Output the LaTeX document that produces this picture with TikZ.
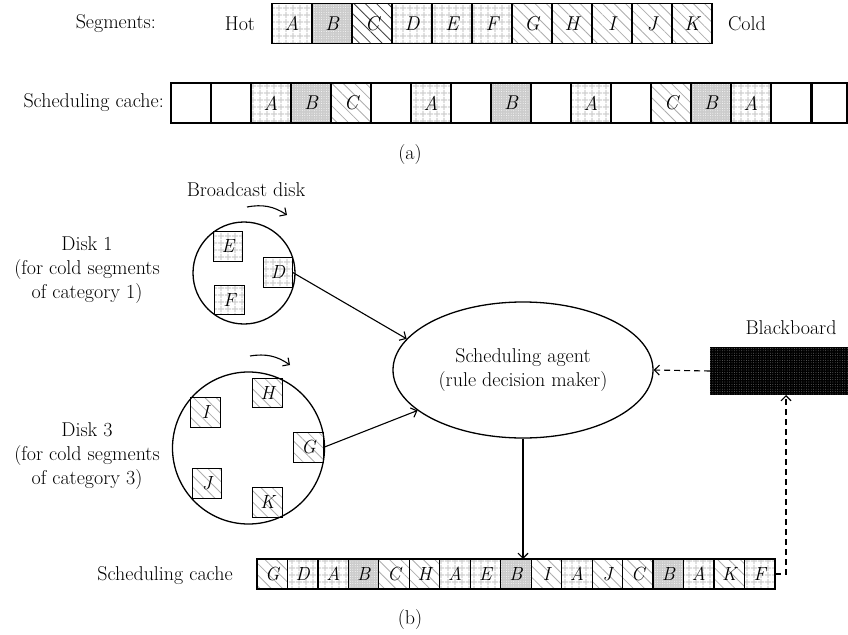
\documentclass[tikz,border=0pt]{standalone}
\usepackage{fontspec}
\usetikzlibrary{patterns.meta,arrows.meta,shapes.geometric,calc}
\begin{document}
\begin{tikzpicture}[x=1pt,y=-1pt,
  every node/.style={font=\fontsize{20}{24}\selectfont},
  lbl/.style={inner sep=0pt,align=center},
  cellbox/.style={draw,line width=1.4pt,inner sep=0pt,outer sep=0pt,minimum width=40pt,minimum height=39.5pt,font=\fontsize{20}{24}\selectfont\itshape},
  bcell/.style={draw,line width=1.2pt,inner sep=0pt,outer sep=0pt,minimum width=30.47pt,minimum height=30pt,font=\fontsize{19}{24}\selectfont\itshape},
  sq/.style={draw,line width=1.2pt,inner sep=0pt,outer sep=0pt,minimum width=29.5pt,minimum height=29.5pt,font=\fontsize{19}{24}\selectfont\itshape},
  gridfill/.style={pattern={Hatch[angle=0,distance=6.5pt,line width=1.3pt]},pattern color=black!18},
  dotfill/.style={preaction={fill=black!20},pattern={Dots[distance=2.4pt,radius=0.45pt]},pattern color=white},
  hatchfill/.style={pattern={Lines[angle=-45,distance=8pt,line width=0.8pt]},pattern color=black!32},
  hatchdark/.style={pattern={Lines[angle=-45,distance=8pt,line width=0.8pt]},pattern color=black!75},
  arr/.style={line width=1.1pt,-{Straight Barb[length=5pt,width=10pt]}},
  dsh/.style={dash pattern=on 6pt off 4pt}
]
\useasboundingbox (0,0) rectangle (848,634);

% ---------- (a) Segments row ----------
\node[lbl,anchor=east] (seglbl) at (156,24) {Segments:};
\node[lbl] (hot) at (240,24) {Hot};
\node[cellbox,gridfill]  (s0)  at (292,23.5) {A};
\node[cellbox,dotfill]   (s1)  at (332,23.5) {B};
\node[cellbox,hatchdark] (s2)  at (372,23.5) {C};
\node[cellbox,gridfill]  (s3)  at (412,23.5) {D};
\node[cellbox,gridfill]  (s4)  at (452,23.5) {E};
\node[cellbox,gridfill]  (s5)  at (492,23.5) {F};
\node[cellbox,hatchfill] (s6)  at (532,23.5) {G};
\node[cellbox,hatchfill] (s7)  at (572,23.5) {H};
\node[cellbox,hatchfill] (s8)  at (612,23.5) {I};
\node[cellbox,hatchfill] (s9)  at (652,23.5) {J};
\node[cellbox,hatchfill] (s10) at (692,23.5) {K};
\node[lbl] (cold) at (747,24) {Cold};

% ---------- (a) Scheduling cache row ----------
\node[lbl,anchor=east] (cachelbl) at (164,103) {Scheduling cache:};
\node[cellbox,minimum height=40pt] (a0)  at (191,103) {};
\node[cellbox,minimum height=40pt] (a1)  at (231,103) {};
\node[cellbox,minimum height=40pt,gridfill]  (a2)  at (271,103) {A};
\node[cellbox,minimum height=40pt,dotfill]   (a3)  at (311,103) {B};
\node[cellbox,minimum height=40pt,hatchfill] (a4)  at (351,103) {C};
\node[cellbox,minimum height=40pt] (a5)  at (391,103) {};
\node[cellbox,minimum height=40pt,gridfill]  (a6)  at (431,103) {A};
\node[cellbox,minimum height=40pt] (a7)  at (471,103) {};
\node[cellbox,minimum height=40pt,dotfill]   (a8)  at (511,103) {B};
\node[cellbox,minimum height=40pt] (a9)  at (551,103) {};
\node[cellbox,minimum height=40pt,gridfill]  (a10) at (591,103) {A};
\node[cellbox,minimum height=40pt] (a11) at (631,103) {};
\node[cellbox,minimum height=40pt,hatchfill] (a12) at (671,103) {C};
\node[cellbox,minimum height=40pt,dotfill]   (a13) at (711,103) {B};
\node[cellbox,minimum height=40pt,gridfill]  (a14) at (751,103) {A};
\node[cellbox,minimum height=40pt] (a15) at (791,103) {};
\node[cellbox,minimum height=40pt,minimum width=35pt] (a16) at (829.5,103) {};
\node[lbl] (capa) at (410,155) {(a)};

% ---------- (b) disks ----------
\node[lbl] (bdisk) at (246,190) {Broadcast disk};
\coordinate (r1s) at (247,207);
\coordinate (r1e) at (287,215);
\draw[arr] (r1s) to[bend left=22] (r1e);
\node[draw,circle,line width=1.3pt,minimum size=102pt,inner sep=0pt] (disk1) at (244,273) {};
\node[sq,gridfill] (E) at (228,246.5) {E};
\node[sq,gridfill] (D) at (278,272.5) {D};
\node[sq,gridfill] (F) at (229.5,300) {F};
\node[lbl] (d1lbl) at (87,270) {Disk 1\\(for cold segments\\of category 1)};

\coordinate (r3s) at (250,356);
\coordinate (r3e) at (290,365);
\draw[arr] (r3s) to[bend left=22] (r3e);
\node[draw,circle,line width=1.3pt,minimum size=152pt,inner sep=0pt] (disk3) at (248.5,448) {};
\node[sq,hatchfill] (H) at (267.5,393) {H};
\node[sq,hatchfill] (I) at (205.5,412.5) {I};
\node[sq,hatchfill] (G) at (308.5,447.5) {G};
\node[sq,hatchfill] (J) at (207,483.5) {J};
\node[sq,hatchfill] (K) at (267.5,502.5) {K};
\node[lbl] (d3lbl) at (87,456) {Disk 3\\(for cold segments\\of category 3)};

% ---------- agent and blackboard ----------
\node[draw,ellipse,line width=1.3pt,minimum width=260pt,minimum height=136pt,inner sep=0pt,align=center] (agent) at (523,370) {Scheduling agent\\(rule decision maker)};
\node[lbl] (bblbl) at (791,328) {Blackboard};
\node[inner sep=0pt,outer sep=0pt,minimum width=138pt,minimum height=48pt,preaction={fill=black},pattern={Dots[distance=2.4pt,radius=0.45pt]},pattern color=black!55] (board) at (779,371) {};

\draw[arr] (D.east) -- (agent.165);
\draw[arr] (G.east) -- (agent.201);
\draw[arr,dsh] (board.west) -- (agent.east);

% ---------- (b) Scheduling cache ----------
\node[lbl] (cachelblb) at (165,576) {Scheduling cache};
\node[bcell,hatchfill] (b0)  at (272.2,574) {G};
\node[bcell,gridfill]  (b1)  at (302.7,574) {D};
\node[bcell,gridfill]  (b2)  at (333.2,574) {A};
\node[bcell,dotfill]   (b3)  at (363.6,574) {B};
\node[bcell,hatchfill] (b4)  at (394.1,574) {C};
\node[bcell,hatchfill] (b5)  at (424.6,574) {H};
\node[bcell,gridfill]  (b6)  at (455.0,574) {A};
\node[bcell,gridfill]  (b7)  at (485.5,574) {E};
\node[bcell,dotfill]   (b8)  at (516.0,574) {B};
\node[bcell,hatchfill] (b9)  at (546.4,574) {I};
\node[bcell,gridfill]  (b10) at (576.9,574) {A};
\node[bcell,hatchfill] (b11) at (607.4,574) {J};
\node[bcell,hatchfill] (b12) at (637.8,574) {C};
\node[bcell,dotfill]   (b13) at (668.3,574) {B};
\node[bcell,gridfill]  (b14) at (698.8,574) {A};
\node[bcell,hatchfill] (b15) at (729.3,574) {K};
\node[bcell,gridfill]  (b16) at (759.7,574) {F};
\node[lbl] (capb) at (410,620) {(b)};

\draw[arr] (agent.south) -- (agent.south |- b8.north);
\coordinate (bbin) at (786,395);
\draw[arr,dsh] (b16.east) -| (bbin);
\end{tikzpicture}
\end{document}
